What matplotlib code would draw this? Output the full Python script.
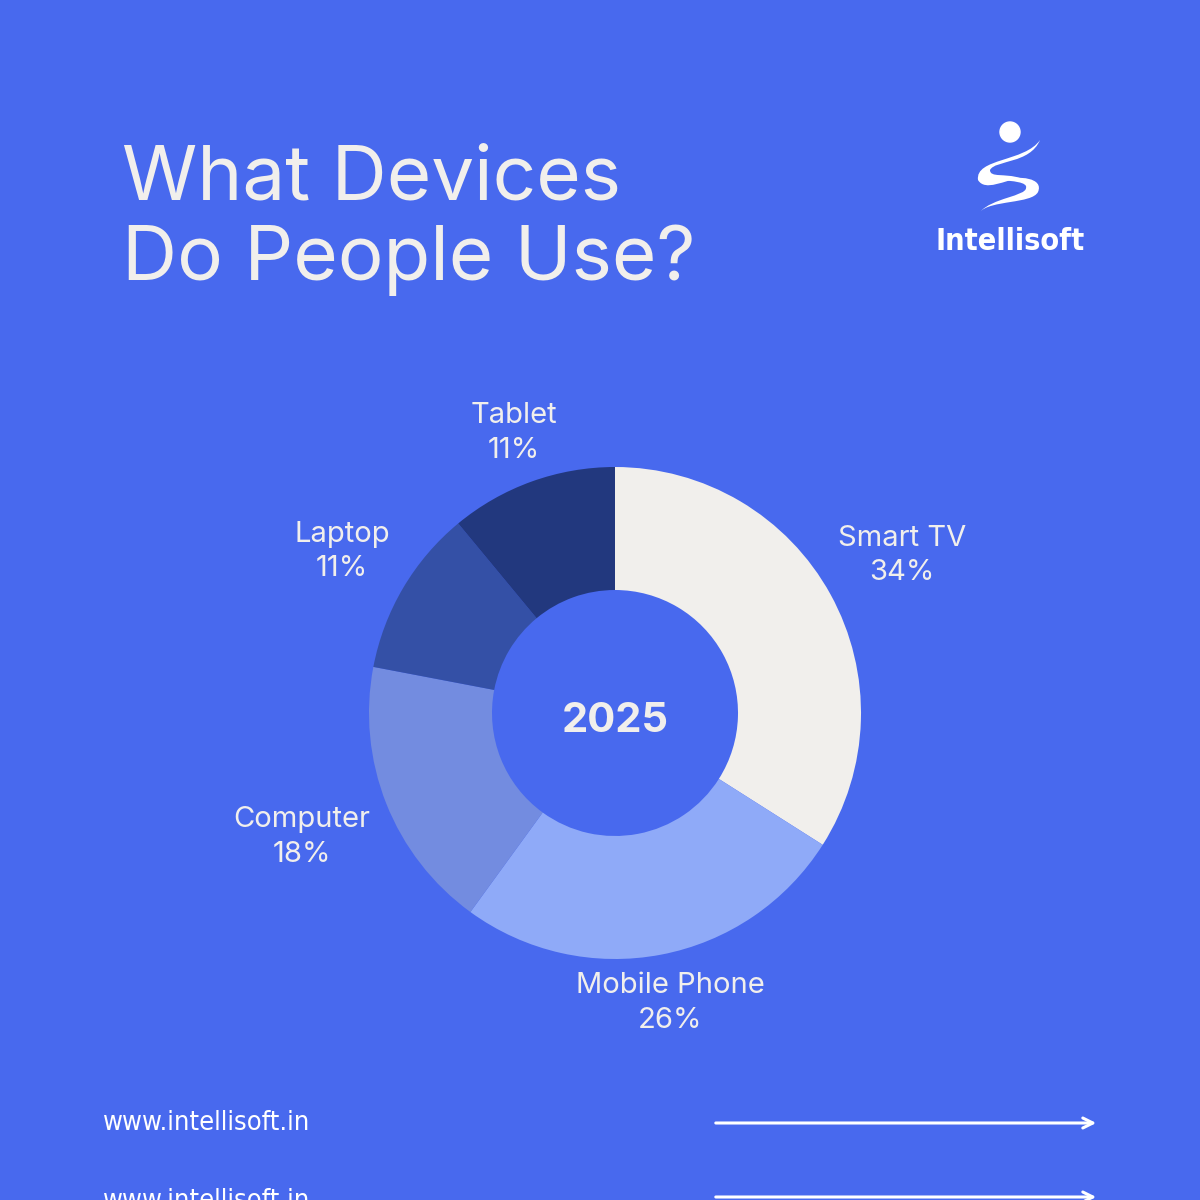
import matplotlib
matplotlib.use("Agg")
import matplotlib.pyplot as plt
import numpy as np
from matplotlib.patches import Circle, PathPatch
from matplotlib.path import Path

# data
devices = ["Smart TV", "Mobile Phone", "Computer", "Laptop", "Tablet"]
shares = [34, 26, 18, 11, 11]
year = "2025"

# style
bg = "#4869EE"
txt = "#F1EFEC"
colors = ["#F1EFEC", "#8FAAF8", "#738CE0", "#3450A6", "#22387E"]
label_dist = [1.33, 1.20, 1.37, 1.29, 1.21]

fig = plt.figure(figsize=(12, 12), dpi=100, facecolor=bg)

# full-page axes in pixel coords
bgax = fig.add_axes([0, 0, 1, 1])
bgax.set_xlim(0, 1200)
bgax.set_ylim(1200, 0)
bgax.axis("off")
bgax.set_facecolor(bg)

# title
bgax.text(122, 200, "What Devices", fontsize=55, color=txt, family="Inter", va="baseline")
bgax.text(122, 280, "Do People Use?", fontsize=55, color=txt, family="Inter", va="baseline")

# logo
bgax.add_patch(Circle((1010, 132), 10, color="white"))
up = Path([(1040, 140), (1025, 162), (975, 158), (978, 180), (985, 192), (1005, 180), (1020, 178),
           (1005, 173), (990, 178), (990, 170), (995, 160), (1030, 164), (1040, 140)],
          [Path.MOVETO, Path.CURVE4, Path.CURVE4, Path.CURVE4, Path.CURVE4, Path.CURVE4, Path.CURVE4,
           Path.CURVE4, Path.CURVE4, Path.CURVE4, Path.CURVE4, Path.CURVE4, Path.CURVE4])
bgax.add_patch(PathPatch(up, color="white", lw=0))
low = Path([(1000, 180), (1020, 175), (1044, 178), (1038, 192), (1032, 204), (990, 200), (980, 212),
            (992, 198), (1026, 196), (1026, 188), (1028, 182), (1012, 181), (1000, 180)],
           [Path.MOVETO, Path.CURVE4, Path.CURVE4, Path.CURVE4, Path.CURVE4, Path.CURVE4, Path.CURVE4,
            Path.CURVE4, Path.CURVE4, Path.CURVE4, Path.CURVE4, Path.CURVE4, Path.CURVE4])
bgax.add_patch(PathPatch(low, color="white", lw=0))
bgax.text(1010, 250, "Intellisoft", fontsize=22, fontweight="bold", color="white",
          family="DejaVu Sans", fontstretch="condensed", ha="center", va="baseline")

# footer (second row is cut by the page edge, as in the original)
for y in [1123, 1201]:
    bgax.text(103, y, "www.intellisoft.in", fontsize=19.5, color="white",
              family="DejaVu Sans", fontstretch="condensed", va="center")
    bgax.annotate("", xy=(1099, y - 4 if y > 1195 else y), xytext=(713, y - 4 if y > 1195 else y),
                  arrowprops=dict(arrowstyle="->", color="white", lw=2.2, mutation_scale=18))

# donut
cx, cy, r = 615, 713, 246
ax = fig.add_axes([(cx - r) / 1200, (1200 - cy - r) / 1200, 2 * r / 1200, 2 * r / 1200])
wedges, _ = ax.pie(shares, colors=colors, startangle=90, counterclock=False, radius=1,
                   wedgeprops=dict(width=0.5, linewidth=0))
ax.set_xlim(-1, 1)
ax.set_ylim(-1, 1)
ax.set_aspect("equal")
ax.axis("off")

for w, name, val, d in zip(wedges, devices, shares, label_dist):
    ang = np.deg2rad((w.theta1 + w.theta2) / 2)
    x, y = d * np.cos(ang), d * np.sin(ang)
    ax.text(x, y, f"{name}\n{val}%", ha="center", va="center", fontsize=21, color=txt,
            family="Inter", linespacing=1.35, clip_on=False)

ax.text(0, -0.077, year, ha="center", va="baseline", fontsize=30, fontweight="bold", color=txt, family="Inter")

fig.savefig("out.png", dpi=100, facecolor=bg)
